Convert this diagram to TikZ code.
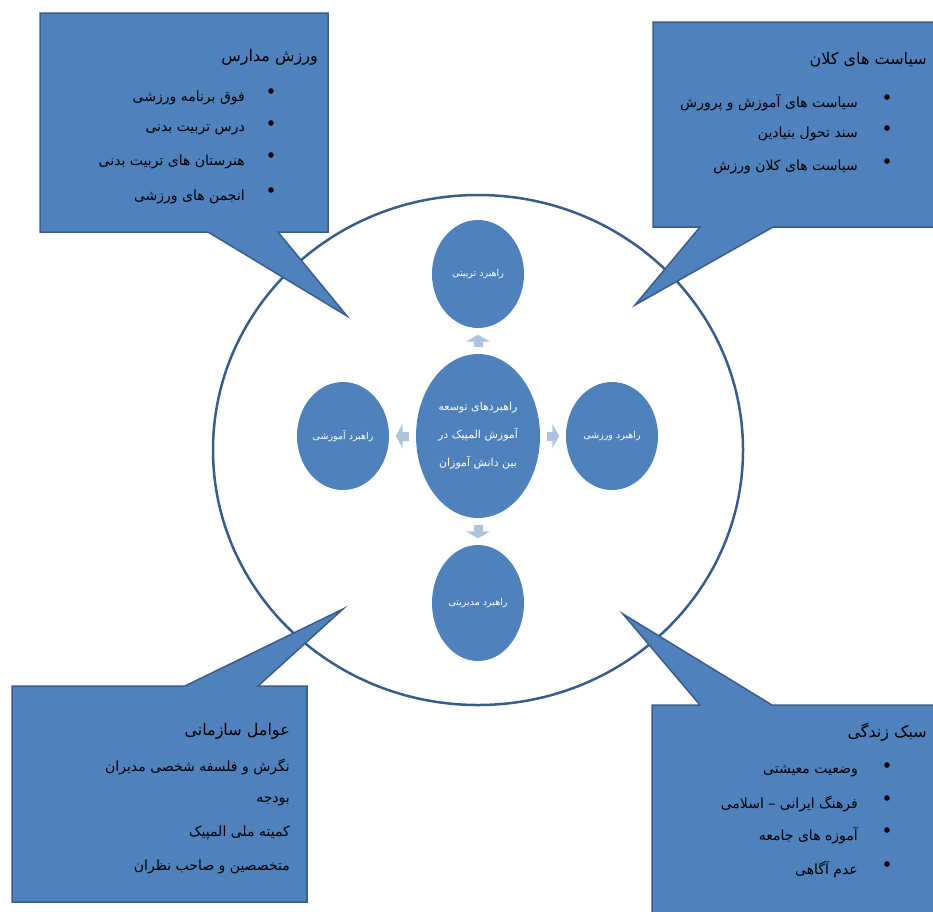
\documentclass[tikz,border=0pt]{standalone}
\usepackage{fontspec}
\newfontfamily\arabicfont[Script=Arabic]{DejaVu Sans}
\TeXXeTstate=1
\usetikzlibrary{shapes.geometric,arrows.meta}
\definecolor{boxblue}{HTML}{4F81BD}
\definecolor{edgeblue}{HTML}{385D8A}
\definecolor{arrowblue}{HTML}{ADC4E1}
\newcommand{\rtl}[1]{\beginR#1\endR}

\begin{document}
\begin{tikzpicture}[x=1pt,y=-1pt]

\tikzstyle{calloutbox} = [fill=boxblue,draw=edgeblue,line width=1.5pt,line join=miter]
\tikzstyle{bubble} = [ellipse,fill=boxblue,text=white,inner sep=0,minimum width=92pt,minimum height=108pt,font=\arabicfont\fontsize{9.5}{11}\selectfont]
\tikzstyle{boxtitle} = [anchor=east,inner sep=0,font=\arabicfont\fontsize{16}{18}\selectfont]
\tikzstyle{boxitem} = [anchor=east,inner sep=0,font=\arabicfont\fontsize{14}{16}\selectfont]
\tikzstyle{blockarrow} = [draw=arrowblue,line width=9pt,-{Triangle[width=24pt,length=7pt]},shorten <=6.5pt,shorten >=6.5pt]

\useasboundingbox (0,0) rectangle (933,911);

\draw [edgeblue,line width=2.5pt] (478,450) ellipse [x radius=265pt,y radius=255pt];

\draw [calloutbox] (40,13) -- (328,13) -- (328,232) -- (278,232) -- (347,316) -- (208,232) -- (40,232) -- cycle;
\draw [calloutbox] (653,22) -- (940,22) -- (940,227) -- (773,227) -- (635,305) -- (700,227) -- (653,227) -- cycle;
\draw [calloutbox] (12,686) -- (185,686) -- (343,609) -- (258,686) -- (307,686) -- (307,902) -- (12,902) -- cycle;
\draw [calloutbox] (652,705) -- (700,705) -- (623,614) -- (772,705) -- (940,705) -- (940,920) -- (652,920) -- cycle;

\node [boxtitle] (madares) at (318,57) {\rtl{ورزش مدارس}};
\foreach \y/\t in {98/{فوق برنامه ورزشی},130/{درس تربیت بدنی},162/{هنرستان های تربیت بدنی},197/{انجمن های ورزشی}} {
  \node [boxitem] at (245,\y) {\rtl{\t}};
  \fill (271,\y-7) circle (2.8pt);
}

\node [boxtitle] (kalan) at (927,60) {\rtl{سیاست های کلان}};
\foreach \y/\t in {103/{سیاست های آموزش و پرورش},134/{سند تحول بنیادین},167/{سیاست های کلان ورزش}} {
  \node [boxitem] at (858,\y) {\rtl{\t}};
  \fill (887,\y-6) circle (2.8pt);
}

\node [boxtitle] (sazmani) at (290,731) {\rtl{عوامل سازمانی}};
\node [boxitem] (negaresh) at (290,767) {\rtl{نگرش و فلسفه شخصی مدیران}};
\node [boxitem] (budje) at (290,801) {\rtl{بودجه}};
\node [boxitem] (komite) at (290,833) {\rtl{کمیته ملی المپیک}};
\node [boxitem] (motekhases) at (290,867) {\rtl{متخصصین و صاحب نظران}};

\node [boxtitle] (sabk) at (927,732) {\rtl{سبک زندگی}};
\foreach \y/\t in {771/{وضعیت معیشتی},804/{فرهنگ ایرانی – اسلامی},836/{آموزه های جامعه},870/{عدم آگاهی}} {
  \node [boxitem] at (858,\y) {\rtl{\t}};
  \fill (887,\y-6) circle (2.8pt);
}

\node [bubble,minimum width=124pt,minimum height=164pt,align=center,font=\arabicfont\fontsize{11}{28}\selectfont] (hub) at (478,436) {\rtl{راهبردهای توسعه}\\\rtl{آموزش المپیک در}\\\rtl{بین دانش آموزان}};
\node [bubble] (tarbiati) at (478,274) {\rtl{راهبرد تربیتی}};
\node [bubble] (amuzeshi) at (343,436) {\rtl{راهبرد آموزشی}};
\node [bubble] (varzeshi) at (612,436) {\rtl{راهبرد ورزشی}};
\node [bubble,minimum height=116pt] (modiriyati) at (478,603) {\rtl{راهبرد مدیریتی}};

\draw [blockarrow] (hub) -- (tarbiati);
\draw [blockarrow] (hub) -- (amuzeshi);
\draw [blockarrow] (hub) -- (varzeshi);
\draw [blockarrow] (hub) -- (modiriyati);
\end{tikzpicture}
\end{document}
